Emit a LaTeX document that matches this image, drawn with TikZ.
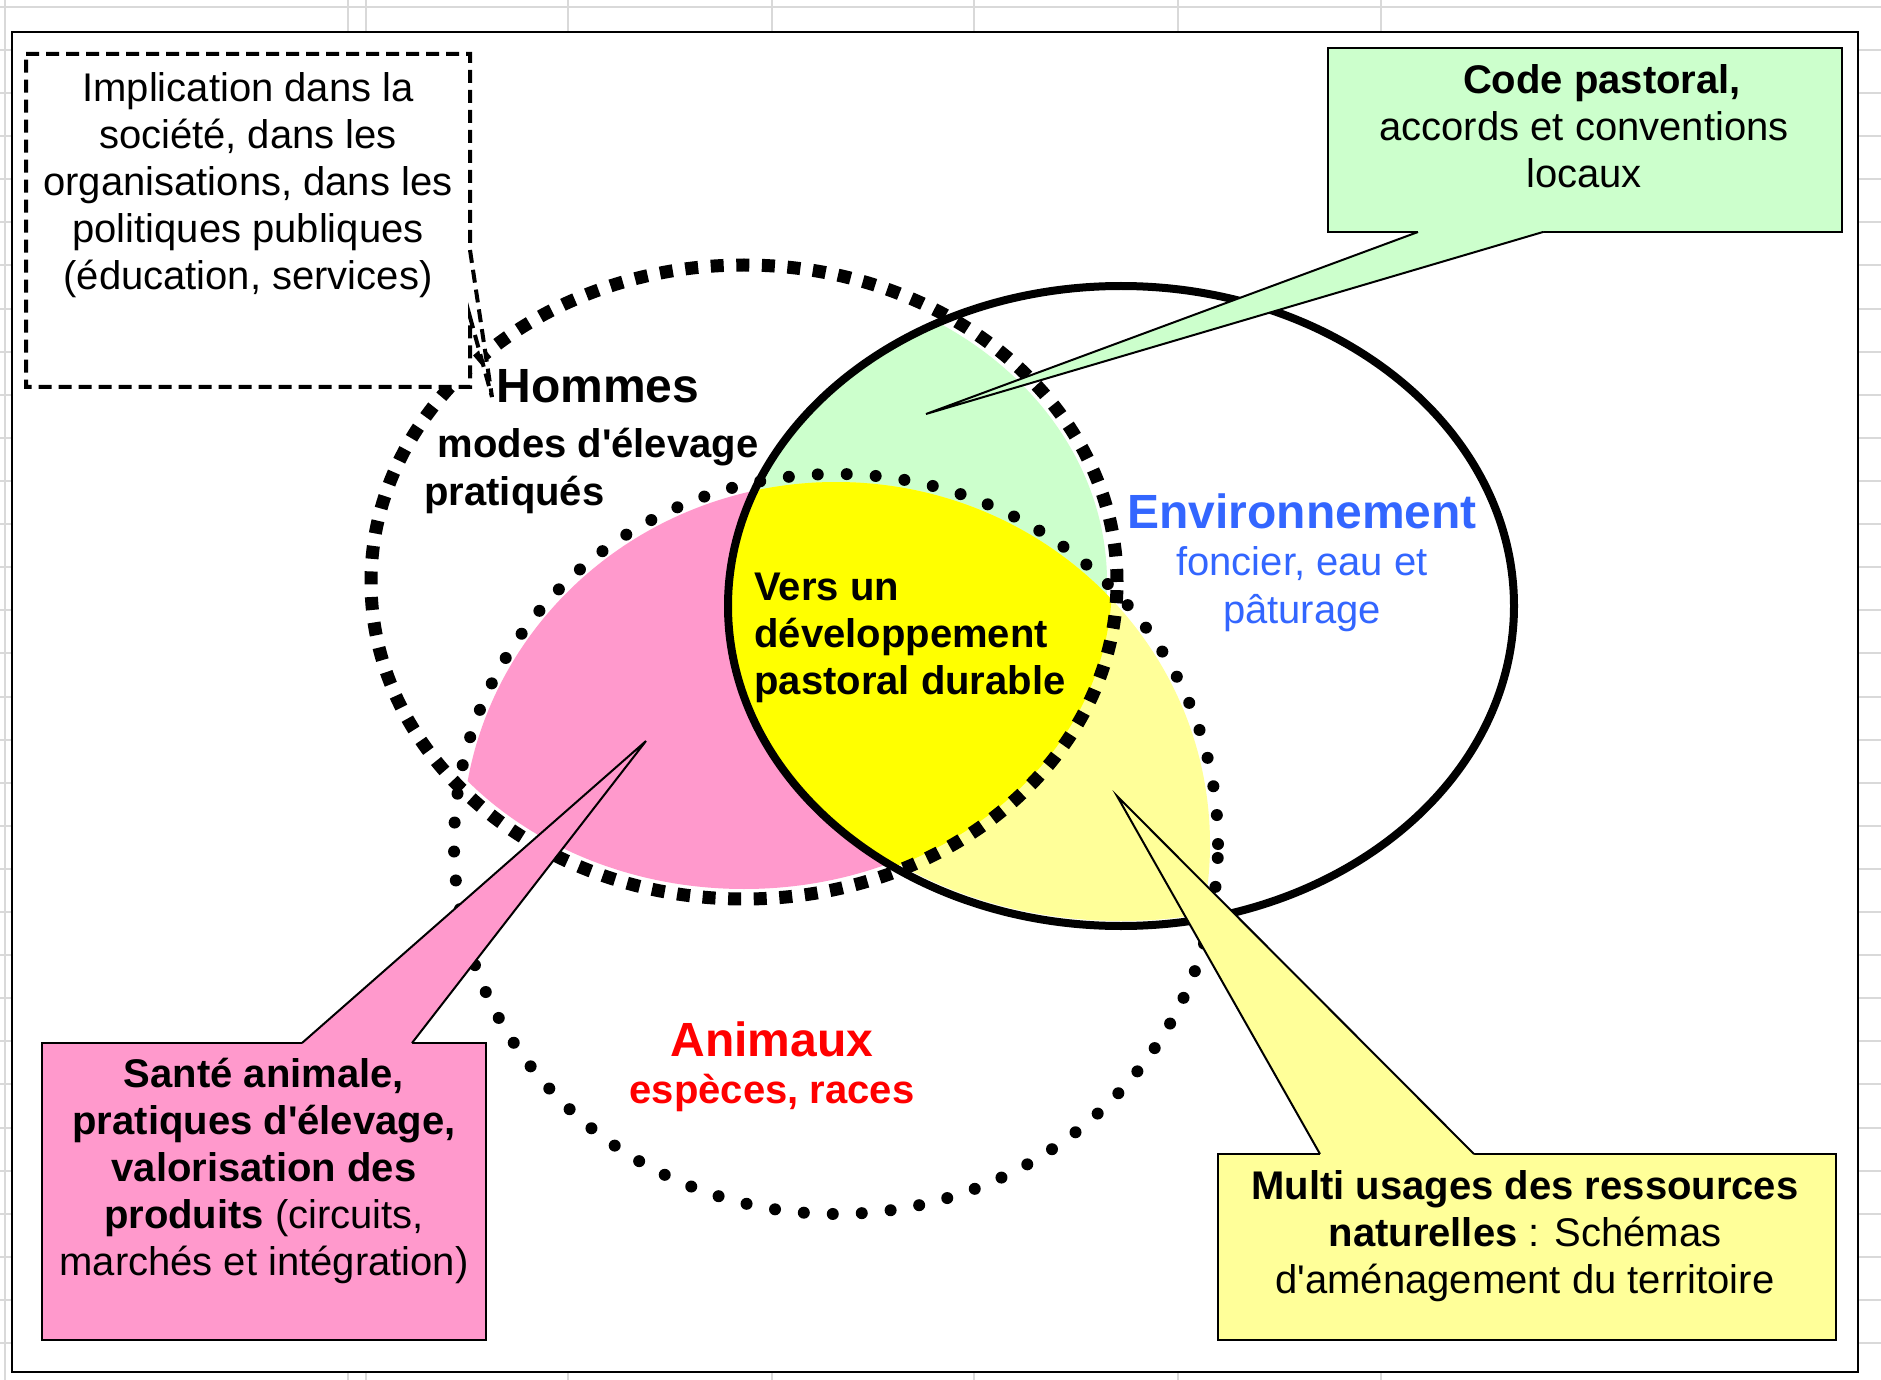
\documentclass[tikz,border=0pt]{standalone}
\usepackage{fontspec}
\setmainfont{Liberation Sans}[Ligatures=TeXOff]
\usetikzlibrary{calc}
\definecolor{pinkF}{HTML}{FF99CC}
\definecolor{greenF}{HTML}{CCFFCC}
\definecolor{lyelF}{HTML}{FFFF99}
\definecolor{yelF}{HTML}{FFFF00}
\definecolor{envblue}{HTML}{3366FF}
\definecolor{gridgray}{HTML}{D9D9D9}
\begin{document}
\begin{tikzpicture}[x=0.5pt,y=-0.5pt,
  txt/.style={font=\fontsize{20}{23.5}\selectfont, inner sep=0pt, align=center},
  btxt/.style={font=\fontsize{20}{23.5}\selectfont\bfseries, inner sep=0pt, align=center},
  big/.style={font=\fontsize{24}{28}\selectfont\bfseries, inner sep=0pt},
  calloutline/.style={draw=black, line width=1pt, line join=miter},
  hommesline/.style={line width=6.5pt, dash pattern=on 6.5pt off 6.3pt},
  envline/.style={line width=4pt},
  animline/.style={line width=6pt, line cap=round, dash pattern=on 0pt off 14.5pt},
  gridline/.style={draw=gridgray, line width=1pt},
]
\useasboundingbox (0,0) rectangle (1881,1380);
% spreadsheet grid
\foreach \gx in {5,348,366,568,772,974,1178,1381}
  \draw[gridline] (\gx,0) -- (\gx,1380);
\foreach \k in {0,...,30}
  \draw[gridline] (0,{50+43.1*\k}) -- (1881,{50+43.1*\k});
\draw[gridline] (0,6.7) -- (1881,6.7);
% frame
\draw[fill=white, line width=1.2pt] (12,32) rectangle (1858,1372);

\coordinate (hc) at (744,582);
\coordinate (ec) at (1121,606);
\coordinate (ac) at (836,844);

% coloured regions
\begin{scope}
  \clip (hc) ellipse [x radius=181.5pt, y radius=153.5pt];
  \fill[pinkF] (ac) ellipse [x radius=187pt, y radius=181pt];
  \fill[greenF] (ec) ellipse [x radius=196.5pt, y radius=160pt];
\end{scope}
\begin{scope}
  \clip (ac) ellipse [x radius=187pt, y radius=181pt];
  \fill[lyelF] (ec) ellipse [x radius=194pt, y radius=157.5pt];
  \clip (hc) ellipse [x radius=184pt, y radius=156pt];
  \fill[yelF] (ec) ellipse [x radius=196.5pt, y radius=160pt];
\end{scope}

% ellipses
\draw[hommesline] (hc) ellipse [x radius=186.5pt, y radius=158.5pt];
\draw[envline] (ec) ellipse [x radius=196.5pt, y radius=160pt];
\draw[animline] (ac) ellipse [x radius=191pt, y radius=185pt];

% texts in the diagram
\node[big] (hom) at (598,386) {Hommes};
\node[btxt] (modes) at (598,447) {modes d'élevage};
\node[btxt, anchor=west] (prat) at (424,495) {pratiqués};
\node[big, text=envblue] (env) at (1302,511) {Environnement};
\node[txt, text=envblue, font=\fontsize{20}{24}\selectfont] (envsub) at (1302,589) {foncier, eau et\\pâturage};
\node[btxt, align=left, anchor=west] (vers) at (754,638) {Vers un\\développement\\pastoral durable};
\node[big, text=red] (ani) at (772,1039) {Animaux};
\node[btxt, text=red] (esp) at (772,1093) {espèces, races};

% dashed callout
\coordinate (dtip) at (492,397);
\draw[fill=white, line width=2pt, dash pattern=on 6.5pt off 3.5pt]
  (26,54) -- (470,54) -- (470,250) -- (dtip) -- (470,317) -- (470,387) -- (26,387) -- cycle;
\node[txt] (impl) at (248,185) {Implication dans la\\société, dans les\\organisations, dans les\\politiques publiques\\(éducation, services)};

% green callout
\coordinate (gtip) at (926,414);
\coordinate (gb1) at (1418,232);
\coordinate (gb2) at (1543,232);
\draw[calloutline, fill=greenF] (1328,48) rectangle (1842,232);
\fill[greenF] ($(gb1)+(0,-4)$) -- (gb1) -- (gtip) -- (gb2) -- ($(gb2)+(0,-4)$) -- cycle;
\draw[calloutline] (gb1) -- (gtip) -- (gb2);
\node[txt] (codetxt) at (1584,126) {\hspace*{18pt}\textbf{Code pastoral,}\\accords et conventions\\locaux};

% pink callout
\coordinate (ptip) at (646,741);
\coordinate (pb1) at (302,1043);
\coordinate (pb2) at (412,1043);
\draw[calloutline, fill=pinkF] (42,1043) rectangle (486,1340);
\fill[pinkF] ($(pb1)+(0,4)$) -- (pb1) -- (ptip) -- (pb2) -- ($(pb2)+(0,4)$) -- cycle;
\draw[calloutline] (pb1) -- (ptip) -- (pb2);
\node[txt] (santetxt) at (264,1171) {\textbf{Santé animale,}\\\textbf{pratiques d'élevage,}\\\textbf{valorisation des}\\\textbf{produits} (circuits,\\marchés et intégration)};

% yellow callout
\coordinate (ytip) at (1117,796);
\coordinate (yb1) at (1320,1154);
\coordinate (yb2) at (1474,1154);
\draw[calloutline, fill=lyelF] (1218,1154) rectangle (1836,1340);
\fill[lyelF] ($(yb1)+(0,4)$) -- (yb1) -- (ytip) -- (yb2) -- ($(yb2)+(0,4)$) -- cycle;
\draw[calloutline] (yb1) -- (ytip) -- (yb2);
\node[txt] (multitxt) at (1525,1236) {\textbf{Multi usages des ressources}\\\textbf{naturelles} : Schémas\\d'aménagement du territoire};
\end{tikzpicture}
\end{document}
